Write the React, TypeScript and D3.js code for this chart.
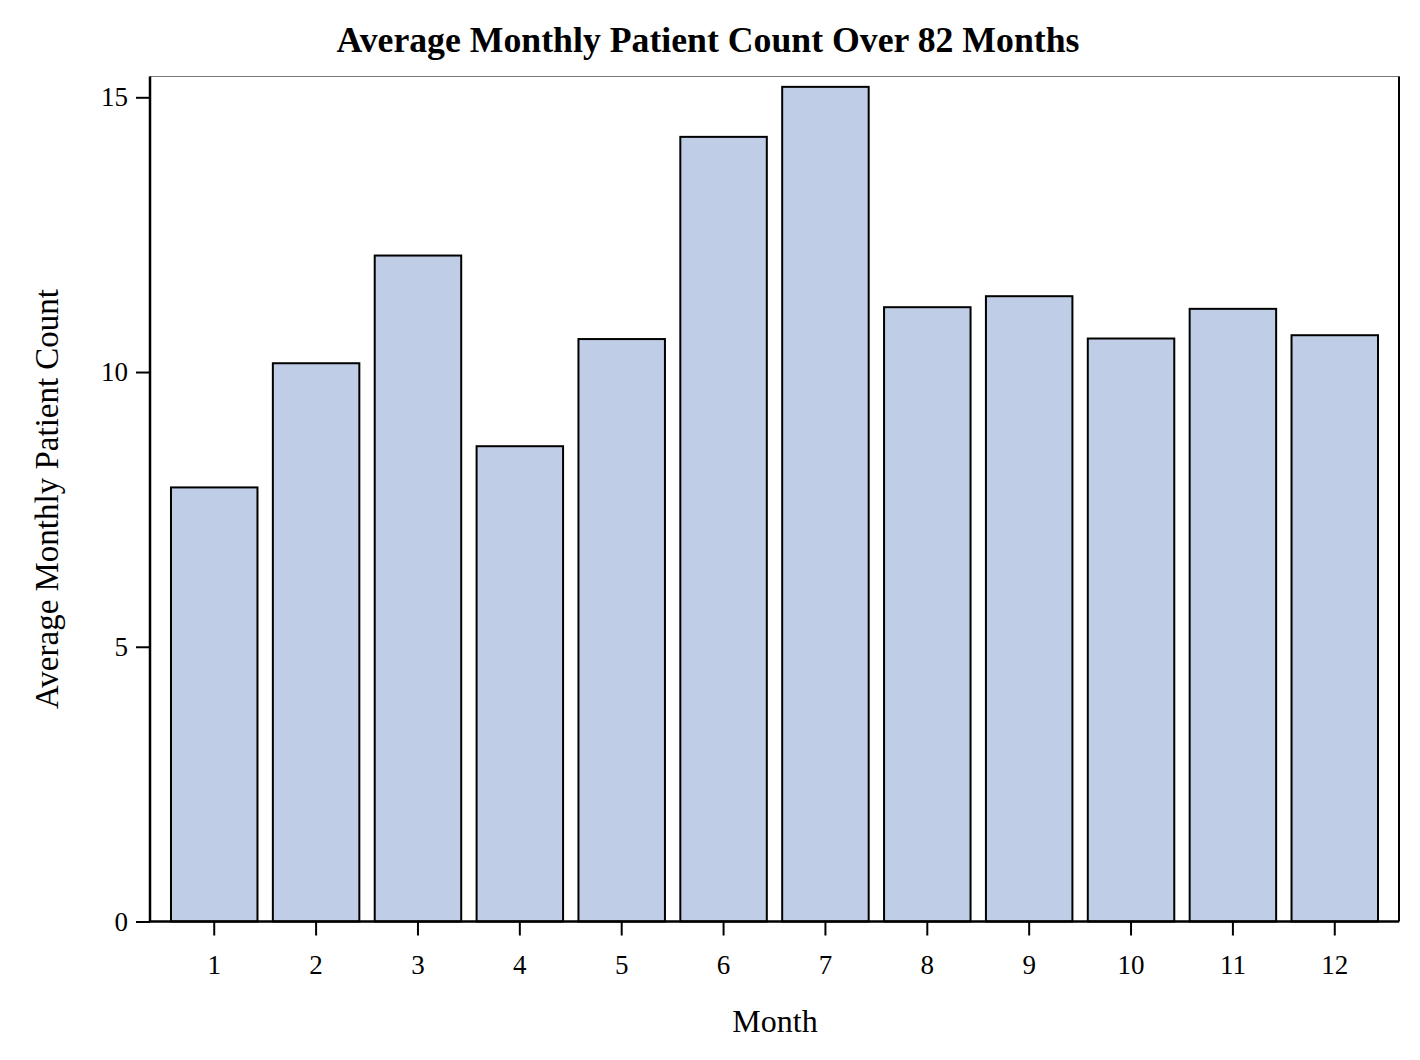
import { useEffect, useRef } from 'react'
import * as d3 from 'd3'

const months = ['1', '2', '3', '4', '5', '6', '7', '8', '9', '10', '11', '12']
const avgCounts = [7.9, 10.16, 12.12, 8.65, 10.6, 14.28, 15.19, 11.18, 11.38, 10.61, 11.15, 10.67]
const yTicks = [0, 5, 10, 15]

const WIDTH = 1420
const HEIGHT = 1060
const FONT = "'Liberation Serif', 'Times New Roman', serif"

export default function App() {
  const svgRef = useRef<SVGSVGElement>(null)

  useEffect(() => {
    document.body.style.margin = '0'
    if (!svgRef.current) return
    const svg = d3.select(svgRef.current)
    svg.selectAll('*').remove()

    const left = 150
    const right = 1399
    const top = 76.5
    const bottom = 921.5

    const x = d3.scaleBand<string>()
      .domain(months)
      .range([left, right])
      .paddingInner(0.151)
      .paddingOuter(0.206)

    const y = d3.scaleLinear()
      .domain([0, 15])
      .range([bottom, 97.3])

    // frame
    svg.append('rect')
      .attr('x', left)
      .attr('y', top)
      .attr('width', right - left)
      .attr('height', bottom - top)
      .attr('fill', 'none')
      .attr('stroke', '#777')
      .attr('stroke-width', 1)

    // bars
    svg.append('g')
      .selectAll('rect')
      .data(avgCounts)
      .enter()
      .append('rect')
      .attr('x', (_, i) => x(months[i])!)
      .attr('y', d => y(d))
      .attr('width', x.bandwidth())
      .attr('height', d => bottom - y(d))
      .attr('fill', '#bfcee6')
      .attr('stroke', '#000')
      .attr('stroke-width', 2)

    // right edge is drawn heavier in the reference
    svg.append('line')
      .attr('x1', right).attr('x2', right)
      .attr('y1', top).attr('y2', bottom)
      .attr('stroke', '#000').attr('stroke-width', 2)

    // y axis
    const yAxis = svg.append('g')
      .attr('transform', `translate(${left},0)`)
      .call(d3.axisLeft(y).tickValues(yTicks).tickSize(14).tickPadding(8).tickFormat(d3.format('d')))
    yAxis.select('.domain').attr('stroke', '#000').attr('stroke-width', 2.5)
      .attr('d', `M0,${top}V${bottom}`)
    yAxis.selectAll('.tick line').attr('stroke', '#000').attr('stroke-width', 2)
    yAxis.selectAll('.tick text')
      .attr('font-family', FONT)
      .attr('font-size', 27)
      .attr('fill', '#000')

    // x axis
    const xAxis = svg.append('g')
      .attr('transform', `translate(0,${bottom})`)
      .call(d3.axisBottom(x).tickSize(14).tickPadding(19))
    xAxis.select('.domain').attr('stroke', '#000').attr('stroke-width', 2.5)
      .attr('d', `M${left},0H${right}`)
    xAxis.selectAll('.tick line').attr('stroke', '#000').attr('stroke-width', 2)
    xAxis.selectAll('.tick text')
      .attr('font-family', FONT)
      .attr('font-size', 27)
      .attr('fill', '#000')

    // title
    svg.append('text')
      .attr('x', 708)
      .attr('y', 52)
      .attr('text-anchor', 'middle')
      .attr('font-family', FONT)
      .attr('font-weight', 'bold')
      .attr('font-size', 36)
      .attr('textLength', 743)
      .attr('lengthAdjust', 'spacingAndGlyphs')
      .text('Average Monthly Patient Count Over 82 Months')

    // axis labels
    svg.append('text')
      .attr('x', 775)
      .attr('y', 1032)
      .attr('text-anchor', 'middle')
      .attr('font-family', FONT)
      .attr('font-size', 32)
      .text('Month')

    svg.append('text')
      .attr('transform', `translate(58,${499}) rotate(-90)`)
      .attr('text-anchor', 'middle')
      .attr('font-family', FONT)
      .attr('font-size', 33)
      .text('Average Monthly Patient Count')
  }, [])

  return <svg ref={svgRef} width={WIDTH} height={HEIGHT} style={{ display: 'block', background: '#fff' }} />
}
